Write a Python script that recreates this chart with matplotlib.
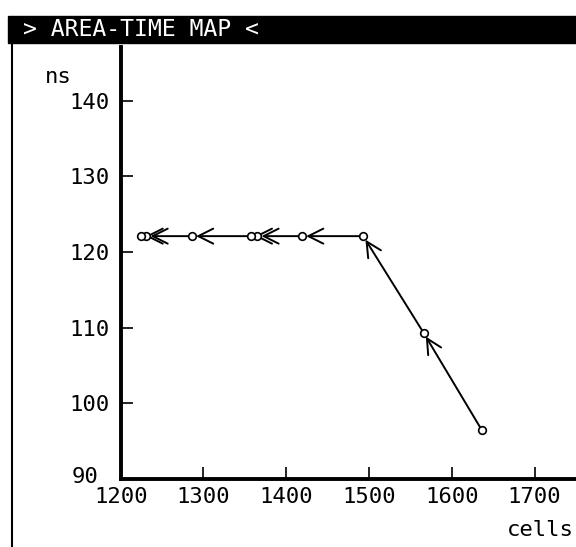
import matplotlib
matplotlib.use("Agg")
import matplotlib.pyplot as plt
import matplotlib.transforms as mtransforms
from matplotlib.patches import Rectangle
from matplotlib.lines import Line2D

# path of the design points (first point -> last point), arrows point along the path
cells = [1636, 1566, 1493, 1419, 1365, 1357, 1286, 1231, 1225]
ns = [96.5, 109.3, 122.1, 122.1, 122.1, 122.1, 122.1, 122.1, 122.1]

x_ticks = [1200, 1300, 1400, 1500, 1600, 1700]
y_ticks = [90, 100, 110, 120, 130, 140]
title = "> AREA-TIME MAP <"

plt.rcParams['font.family'] = ['DejaVu Sans Mono']
W, H = 576, 547
fig = plt.figure(figsize=(W / 100, H / 100), dpi=100)

def fx(px):
    return px / W

def fy(py):
    return 1 - py / H

# header bar and left frame line
fig.patches.append(Rectangle((fx(8), fy(43)), fx(576) - fx(8), fy(16) - fy(43),
                             transform=fig.transFigure, color='black', zorder=0))
fig.text(fx(23), fy(30), title, color='white', fontsize=16.7, va='center', ha='left')
fig.lines.append(Line2D([fx(12), fx(12)], [fy(43), 0], transform=fig.transFigure,
                        color='black', lw=1.5))

ax = fig.add_axes([fx(120.7), fy(479), fx(576) - fx(120.7), fy(47) - fy(479)])
ax.set_xlim(1200, 1750)
ax.set_ylim(90, 147.1)
ax.spines['top'].set_visible(False)
ax.spines['right'].set_visible(False)
ax.spines['left'].set_linewidth(2.8)
ax.spines['bottom'].set_linewidth(2.8)
ax.set_xticks(x_ticks)
ax.set_yticks(y_ticks)
ax.tick_params(direction='in', length=8.5, width=1.2, labelsize=16)
ax.tick_params(axis='x', pad=6)
ax.tick_params(axis='y', pad=8)

# the "90" label sits up and to the left of the corner
shift = mtransforms.ScaledTranslation(-11 / 100, 4 / 100, fig.dpi_scale_trans)
lab90 = ax.get_yticklabels()[0]
lab90.set_transform(lab90.get_transform() + shift)

for i in range(len(cells) - 1):
    ax.annotate('', xy=(cells[i + 1], ns[i + 1]), xytext=(cells[i], ns[i]),
                arrowprops=dict(arrowstyle='->,head_length=0.6,head_width=0.3',
                                lw=1.4, color='black', shrinkA=0, shrinkB=3,
                                mutation_scale=18))
ax.plot(cells, ns, linestyle='none', marker='o', markersize=5.5,
        markerfacecolor='white', markeredgecolor='black', markeredgewidth=1.2,
        zorder=5, clip_on=False)

fig.text(fx(45), fy(83), "ns", fontsize=16, ha='left', va='baseline')
fig.text(fx(507), fy(536), "cells", fontsize=16, ha='left', va='baseline')

fig.savefig("out.png", dpi=100, facecolor='white')
